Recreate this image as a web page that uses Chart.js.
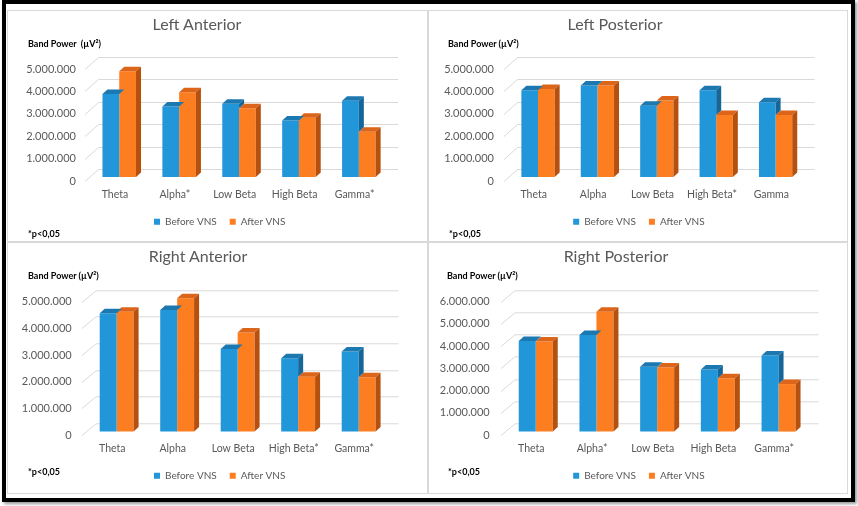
<!DOCTYPE html>
<html>
<head>
<meta charset="utf-8">
<script src="https://cdn.jsdelivr.net/npm/chart.js@4.4.1/dist/chart.umd.min.js"></script>
<style>
  html, body { margin: 0; padding: 0; background: #fff; }
  body { width: 858px; height: 506px; position: relative; overflow: hidden; font-family: Lato, sans-serif; }
  #frame { position: absolute; left: 2px; top: 0; width: 853px; height: 502px; box-sizing: border-box;
           border: 4px solid #000; box-shadow: 2px 2px 3px #999; }
  .panel { position: absolute; border: 1px solid #d9d9d9; }
  .panel canvas { position: absolute; left: 0; top: 0; }
  .title { position: absolute; font: 16px Lato; color: #595959; transform: translate(-50%, -50%); white-space: nowrap; }
  .note { position: absolute; font: bold 9px Lato; color: #000; transform: translateY(-50%); white-space: pre; }
</style>
</head>
<body>
<div id="frame"></div>

<div class="panel" style="left:7px;top:10px;width:419px;height:230px"><canvas id="la" width="419" height="230"></canvas></div>
<div class="panel" style="left:428px;top:10px;width:418px;height:230px"><canvas id="lp" width="418" height="230"></canvas></div>
<div class="panel" style="left:7px;top:242px;width:419px;height:250px"><canvas id="ra" width="419" height="250"></canvas></div>
<div class="panel" style="left:428px;top:242px;width:418px;height:250px"><canvas id="rp" width="418" height="250"></canvas></div>

<div class="title" style="left:197px;top:23px">Left Anterior</div>
<div class="title" style="left:615px;top:23px">Left Posterior</div>
<div class="title" style="left:198px;top:255px">Right Anterior</div>
<div class="title" style="left:616px;top:255px">Right Posterior</div>

<div class="note" style="left:28px;top:43px">Band Power  (µV²)</div>
<div class="note" style="left:448px;top:43px">Band Power (µV²)</div>
<div class="note" style="left:28px;top:275px">Band Power (µV²)</div>
<div class="note" style="left:447px;top:275px">Band Power (µV²)</div>

<div class="note" style="left:28px;top:233px">*p&lt;0,05</div>
<div class="note" style="left:449px;top:233px">*p&lt;0,05</div>
<div class="note" style="left:28px;top:471px">*p&lt;0,05</div>
<div class="note" style="left:448px;top:471px">*p&lt;0,05</div>

<script>
// ----------- Data ------------
const seriesNames = ["Before VNS", "After VNS"];

const laLabels = ["Theta", "Alpha*", "Low Beta", "High Beta", "Gamma*"];
const lpLabels = ["Theta", "Alpha", "Low Beta", "High Beta*", "Gamma"];
const raLabels = ["Theta", "Alpha", "Low Beta", "High Beta*", "Gamma*"];
const rpLabels = ["Theta", "Alpha*", "Low Beta", "High Beta", "Gamma*"];

const laBefore = [3700000, 3150000, 3270000, 2520000, 3400000];
const laAfter  = [4720000, 3780000, 3070000, 2650000, 2020000];
const lpBefore = [3870000, 4080000, 3180000, 3870000, 3340000];
const lpAfter  = [3930000, 4080000, 3420000, 2770000, 2770000];
const raBefore = [4440000, 4560000, 3100000, 2750000, 3000000];
const raAfter  = [4500000, 5000000, 3720000, 2060000, 2040000];
const rpBefore = [4080000, 4350000, 2920000, 2800000, 3420000];
const rpAfter  = [4050000, 5400000, 2880000, 2400000, 2140000];

const yMax = [5000000, 5000000, 5000000, 6000000];
const yStep = 1000000;

// ----------- 3D look ------------
const colors = {
  before: { front: "#2196d9", top: "#1c78b0", side: "#15679a" },
  after:  { front: "#fd7e21", top: "#dd6519", side: "#b5500f" },
};

const bar3d = {
  id: "bar3d",
  beforeDatasetsDraw(chart, args, o) {
    const { ctx, chartArea: a, scales: { y } } = chart;
    ctx.save();
    ctx.strokeStyle = "#d9d9d9";
    ctx.lineWidth = 1;
    y.ticks.forEach((t) => {
      const py = Math.round(y.getPixelForValue(t.value)) + 0.5;
      ctx.beginPath();
      ctx.moveTo(a.left, py);
      ctx.lineTo(a.left + o.wall[0], py - o.wall[1]);
      ctx.lineTo(a.right + o.wall[0], py - o.wall[1]);
      ctx.stroke();
    });
    ctx.restore();
    // bars sit a little behind the front edge of the floor
    ctx.save();
    ctx.translate(o.shift[0], -o.shift[1]);
  },
  afterDatasetDraw(chart, args, o) {
    const ctx = chart.ctx;
    const ds = chart.data.datasets[args.index];
    const next = chart.getDatasetMeta(args.index + 1);
    const [dx, dy] = o.depth;
    args.meta.data.forEach((bar, i) => {
      const { x, y, base, width } = bar.getProps(["x", "y", "base", "width"], true);
      const l = x - width / 2, r = x + width / 2;
      ctx.fillStyle = ds.topColor;
      ctx.beginPath();
      ctx.moveTo(l, y); ctx.lineTo(r, y); ctx.lineTo(r + dx, y - dy); ctx.lineTo(l + dx, y - dy);
      ctx.closePath(); ctx.fill();
      // side face: only the part not hidden by the neighbour bar
      let low = base;
      if (next && next.data && next.data[i]) low = Math.min(base, next.data[i].getProps(["y"], true).y);
      if (low <= y) return;
      ctx.fillStyle = ds.sideColor;
      ctx.beginPath();
      ctx.moveTo(r, y); ctx.lineTo(r + dx, y - dy); ctx.lineTo(r + dx, low - dy); ctx.lineTo(r, low);
      ctx.closePath(); ctx.fill();
    });
  },
  afterDatasetsDraw(chart) {
    chart.ctx.restore();
  },
};

Chart.defaults.font.family = "Lato, sans-serif";
Chart.defaults.color = "#595959";

const dots = (v) => String(v).replace(/\B(?=(\d{3})+(?!\d))/g, ".");

function makeChart(id, labels, before, after, max, lay) {
  new Chart(document.getElementById(id), {
    type: "bar",
    data: {
      labels,
      datasets: [
        { label: seriesNames[0], data: before, backgroundColor: colors.before.front,
          topColor: colors.before.top, sideColor: colors.before.side },
        { label: seriesNames[1], data: after, backgroundColor: colors.after.front,
          topColor: colors.after.top, sideColor: colors.after.side },
      ],
    },
    options: {
      responsive: false,
      animation: false,
      devicePixelRatio: 1,
      layout: { padding: { left: lay.padL, right: 0, top: lay.top, bottom: lay.bottom } },
      datasets: { bar: { barPercentage: 1, categoryPercentage: 0.56, borderWidth: 0, clip: false } },
      scales: {
        x: {
          grid: { display: false, drawTicks: false },
          border: { display: false },
          ticks: { font: { size: 10.5 }, color: "#595959", padding: 7.7, maxRotation: 0 },
          afterFit: (s) => { s.height = 22.7; },
        },
        y: {
          min: 0, max,
          grid: { display: false, drawTicks: false },
          border: { display: false },
          ticks: { stepSize: yStep, font: { size: 11 }, color: "#595959", padding: lay.tickPad,
                   callback: (v) => dots(v) },
          afterFit: (s) => { s.width = lay.yW; },
        },
        pad: {
          type: "linear", position: "right", display: true,
          grid: { display: false }, border: { display: false }, ticks: { display: false },
          afterFit: (s) => { s.width = lay.padR; },
        },
      },
      plugins: {
        title: { display: false },
        tooltip: { enabled: false },
        legend: {
          position: "bottom",
          labels: { boxWidth: 6, boxHeight: 6, padding: 13, font: { size: 10 }, color: "#595959" },
        },
        bar3d: { wall: lay.wall, shift: lay.shift, depth: [5, 4.5] },
      },
    },
    plugins: [bar3d],
  });
}

makeChart("la", laLabels, laBefore, laAfter, yMax[0],
  { padL: 4.4, yW: 72.6, padR: 42.5, top: 58, bottom: 4.3, tickPad: 9, wall: [13.5, 12], shift: [4.3, 4] });
makeChart("lp", lpLabels, lpBefore, lpAfter, yMax[1],
  { padL: 1.8, yW: 73.2, padR: 46, top: 58, bottom: 4.3, tickPad: 10, wall: [13.5, 12], shift: [4.3, 4] });
makeChart("ra", raLabels, raBefore, raAfter, yMax[2],
  { padL: 4.4, yW: 69.6, padR: 42.5, top: 58.7, bottom: 2.3, tickPad: 10.3, wall: [14, 11.7], shift: [4.4, 3.4] });
makeChart("rp", rpLabels, rpBefore, rpAfter, yMax[3],
  { padL: 1.8, yW: 70.2, padR: 42.5, top: 58.7, bottom: 2.3, tickPad: 11.3, wall: [14, 11.7], shift: [4.4, 3.4] });
</script>
</body>
</html>
